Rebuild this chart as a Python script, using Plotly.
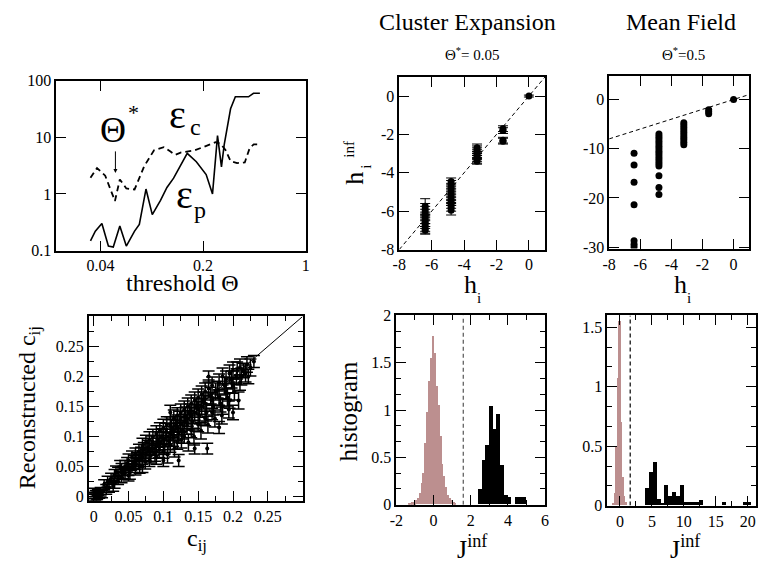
import plotly.graph_objects as go

W, H = 762, 567
FONT = "Liberation Serif"

# ---------------- Panel 1: errors vs threshold ----------------
theta_p = [0.0342, 0.0369, 0.0409, 0.0453, 0.0489, 0.0542, 0.060, 0.0683, 0.0736, 0.0817,
           0.0902, 0.1026, 0.1135, 0.126, 0.156, 0.180, 0.210, 0.232, 0.251, 0.267,
           0.279, 0.308, 0.332, 0.408, 0.441, 0.488]
eps_p = [0.148, 0.22, 0.30, 0.12, 0.115, 0.27, 0.12, 0.22, 0.29, 1.22,
         0.43, 0.77, 1.3, 1.9, 5.2, 3.7, 2.2, 1.0, 10.7, 3.0,
         7.5, 32, 52, 52, 60, 60]
theta_c = [0.0342, 0.0379, 0.0431, 0.0465, 0.0502, 0.0542, 0.060, 0.0683, 0.0795, 0.0927,
           0.108, 0.120, 0.129, 0.142, 0.175, 0.200, 0.244, 0.264, 0.285, 0.308,
           0.341, 0.385, 0.416, 0.443, 0.488]
eps_c = [1.93, 2.87, 2.1, 1.3, 0.75, 1.8, 1.25, 1.2, 3.1, 5.9,
         6.7, 5.6, 4.9, 5.4, 5.9, 6.7, 8.2, 7.7, 5.9, 3.8,
         3.5, 3.6, 6.5, 7.5, 7.5]

# ---------------- Panel 2: cluster expansion fields ----------------
ce_h = [-6.4, -6.4, -6.4, -6.4, -6.4, -6.4, -6.4, -6.4, -6.4, -6.4,
        -4.8, -4.8, -4.8, -4.8, -4.8, -4.8, -4.8, -4.8, -4.8, -4.8, -4.8,
        -3.2, -3.2, -3.2, -3.2, -3.2, -3.2, -3.2, -3.2,
        -1.6, -1.6, -1.6, -1.6,
        0.0]
ce_hinf = [-5.75, -5.9, -6.05, -6.2, -6.35, -6.5, -6.6, -6.75, -6.9, -7.0,
           -4.45, -4.6, -4.75, -4.9, -5.05, -5.2, -5.35, -5.5, -5.65, -5.8, -5.95,
           -2.7, -2.8, -2.9, -3.0, -3.1, -3.2, -3.3, -3.4,
           -1.7, -1.8, -2.3, -2.35,
           0.0]
ce_herr = [0.4, 0.3, 0.3, 0.3, 0.3, 0.3, 0.3, 0.3, 0.25, 0.2,
           0.18, 0.2, 0.2, 0.2, 0.2, 0.2, 0.2, 0.2, 0.2, 0.2, 0.25,
           0.2, 0.2, 0.2, 0.2, 0.2, 0.2, 0.2, 0.15,
           0.15, 0.15, 0.15, 0.15,
           0.05]

# ---------------- Panel 3: mean field fields ----------------
mf_h = [-6.4, -6.4, -6.4, -6.4, -6.4, -6.4, -6.4,
        -4.8, -4.8, -4.8, -4.8, -4.8, -4.8, -4.8, -4.8, -4.8, -4.8, -4.8, -4.8, -4.8, -4.8, -4.8, -4.8, -4.8,
        -3.2, -3.2, -3.2, -3.2, -3.2, -3.2, -3.2, -3.2, -3.2, -3.2,
        -1.6, -1.6, -1.6,
        0.0]
mf_hinf = [-10.9, -13.3, -16.8, -21.4, -28.7, -29.4, -30.0,
           -7.0, -7.5, -8.0, -8.5, -9.0, -9.5, -10.0, -10.5, -11.0, -11.5, -12.0, -12.5, -13.0, -13.5, -15.5, -17.9, -19.3,
           -4.7, -5.2, -5.7, -6.2, -6.7, -7.2, -7.7, -8.2, -8.7, -9.2,
           -2.1, -2.5, -2.9,
           0.0]

# ---------------- Panel 4: reconstructed correlations ----------------
c_data = [0.000, 0.002, 0.003, 0.005, 0.006, 0.008, 0.010, 0.001, 0.004, 0.012,
          0.015, 0.020, 0.022, 0.025, 0.030, 0.030, 0.035, 0.035, 0.040, 0.040,
          0.045, 0.045, 0.050, 0.050, 0.050, 0.055, 0.055, 0.060, 0.060, 0.060,
          0.065, 0.065, 0.070, 0.070, 0.070, 0.075, 0.075, 0.080, 0.080, 0.080,
          0.085, 0.085, 0.090, 0.090, 0.090, 0.095, 0.095, 0.100, 0.100, 0.100,
          0.100, 0.105, 0.105, 0.110, 0.110, 0.110, 0.110, 0.115, 0.115, 0.120,
          0.120, 0.120, 0.122, 0.125, 0.125, 0.130, 0.130, 0.130, 0.135, 0.135,
          0.140, 0.140, 0.140, 0.145, 0.145, 0.145, 0.150, 0.150, 0.150, 0.155,
          0.155, 0.160, 0.160, 0.160, 0.163, 0.165, 0.165, 0.170, 0.170, 0.170,
          0.175, 0.180, 0.180, 0.180, 0.185, 0.185, 0.190, 0.190, 0.195, 0.195,
          0.200, 0.200, 0.200, 0.205, 0.210, 0.210, 0.215, 0.220, 0.222, 0.230,
          0.018, 0.028, 0.032, 0.038, 0.042, 0.048, 0.052, 0.058, 0.062, 0.066,
          0.068, 0.072, 0.074, 0.078, 0.082, 0.084, 0.088, 0.092, 0.094, 0.098,
          0.102, 0.104, 0.106, 0.108, 0.112, 0.114, 0.116, 0.118, 0.122, 0.124,
          0.126, 0.128, 0.132, 0.134, 0.136, 0.138, 0.142, 0.144, 0.148, 0.152,
          0.154, 0.158, 0.162, 0.164, 0.168, 0.172, 0.174, 0.178, 0.182, 0.184,
          0.188, 0.192, 0.194, 0.198, 0.202, 0.206, 0.208, 0.212, 0.218, 0.225]
c_rec = [0.002, 0.000, 0.005, 0.001, 0.007, 0.003, 0.008, 0.009, -0.002, 0.004,
         0.020, 0.025, 0.015, 0.030, 0.022, 0.035, 0.040, 0.028, 0.045, 0.032,
         0.050, 0.038, 0.060, 0.045, 0.035, 0.065, 0.050, 0.070, 0.055, 0.045,
         0.075, 0.060, 0.085, 0.065, 0.050, 0.090, 0.070, 0.095, 0.075, 0.060,
         0.100, 0.080, 0.105, 0.085, 0.065, 0.110, 0.090, 0.115, 0.095, 0.075,
         0.060, 0.120, 0.100, 0.140, 0.120, 0.105, 0.085, 0.130, 0.110, 0.135,
         0.115, 0.090, 0.060, 0.140, 0.120, 0.145, 0.125, 0.100, 0.150, 0.130,
         0.155, 0.135, 0.110, 0.080, 0.160, 0.140, 0.165, 0.145, 0.120, 0.170,
         0.150, 0.175, 0.155, 0.130, 0.080, 0.200, 0.180, 0.185, 0.160, 0.140,
         0.175, 0.190, 0.115, 0.165, 0.200, 0.150, 0.195, 0.175, 0.205, 0.160,
         0.210, 0.185, 0.140, 0.200, 0.215, 0.190, 0.210, 0.220, 0.200, 0.225,
         0.012, 0.018, 0.042, 0.050, 0.040, 0.055, 0.040, 0.058, 0.062, 0.050,
         0.070, 0.078, 0.058, 0.082, 0.068, 0.088, 0.072, 0.095, 0.078, 0.100,
         0.085, 0.108, 0.070, 0.092, 0.115, 0.098, 0.080, 0.122, 0.105, 0.128,
         0.095, 0.110, 0.135, 0.118, 0.090, 0.140, 0.125, 0.100, 0.150, 0.135,
         0.110, 0.160, 0.140, 0.120, 0.168, 0.150, 0.130, 0.178, 0.155, 0.135,
         0.185, 0.165, 0.145, 0.195, 0.175, 0.210, 0.160, 0.200, 0.205, 0.215]
c_err = [0.005, 0.006, 0.005, 0.006, 0.005, 0.006, 0.007, 0.005, 0.006, 0.006,
         0.008, 0.009, 0.008, 0.009, 0.008, 0.010, 0.009, 0.008, 0.010, 0.009,
         0.010, 0.009, 0.011, 0.010, 0.009, 0.011, 0.010, 0.011, 0.010, 0.009,
         0.012, 0.010, 0.012, 0.011, 0.010, 0.012, 0.011, 0.013, 0.011, 0.010,
         0.012, 0.011, 0.013, 0.012, 0.011, 0.013, 0.012, 0.014, 0.012, 0.011,
         0.010, 0.013, 0.012, 0.012, 0.013, 0.012, 0.011, 0.014, 0.012, 0.013,
         0.012, 0.011, 0.010, 0.014, 0.013, 0.014, 0.012, 0.011, 0.014, 0.013,
         0.014, 0.013, 0.012, 0.009, 0.014, 0.013, 0.014, 0.013, 0.012, 0.014,
         0.013, 0.014, 0.013, 0.012, 0.009, 0.009, 0.014, 0.014, 0.013, 0.012,
         0.014, 0.014, 0.010, 0.013, 0.014, 0.013, 0.014, 0.013, 0.014, 0.013,
         0.014, 0.013, 0.012, 0.013, 0.014, 0.013, 0.012, 0.013, 0.012, 0.010,
         0.008, 0.009, 0.009, 0.010, 0.010, 0.010, 0.011, 0.011, 0.011, 0.011,
         0.012, 0.012, 0.012, 0.012, 0.012, 0.013, 0.013, 0.013, 0.013, 0.013,
         0.014, 0.014, 0.014, 0.014, 0.014, 0.014, 0.014, 0.014, 0.014, 0.014,
         0.014, 0.014, 0.014, 0.014, 0.014, 0.014, 0.014, 0.014, 0.014, 0.014,
         0.014, 0.014, 0.014, 0.014, 0.014, 0.014, 0.014, 0.014, 0.014, 0.014,
         0.014, 0.014, 0.014, 0.014, 0.014, 0.014, 0.014, 0.014, 0.014, 0.014]

# ---------------- Panel 5: cluster expansion coupling histogram ----------------
ce_pink_x = [-1.3, -1.2, -1.1, -1.0, -0.9, -0.8, -0.7, -0.6, -0.5, -0.4, -0.3, -0.2, -0.1,
             0.0, 0.1, 0.2, 0.3, 0.4, 0.5, 0.6, 0.7, 0.8, 0.9, 1.0, 1.1, 1.2]
ce_pink_y = [0.01, 0.01, 0.02, 0.02, 0.04, 0.06, 0.12, 0.22, 0.33, 0.65, 0.97, 1.30, 1.55,
             1.78, 1.60, 1.25, 1.05, 0.72, 0.42, 0.30, 0.18, 0.10, 0.06, 0.04, 0.02, 0.01]
ce_black_x = [2.5, 2.7, 2.9, 3.1, 3.3, 3.5, 3.7, 3.9, 4.1, 4.5, 4.7, 4.9]
ce_black_y = [0.16, 0.47, 0.63, 1.04, 0.79, 0.95, 0.41, 0.10, 0.08, 0.08, 0.08, 0.08]
ce_thr = 1.6

# ---------------- Panel 6: mean field coupling histogram ----------------
mf_pink_x = [-1.0, -0.75, -0.5, -0.25, 0.0, 0.25, 0.5, 0.75, 1.0]
mf_pink_y = [0.02, 0.10, 0.50, 1.07, 1.55, 0.70, 0.24, 0.08, 0.03]
mf_black_x = [4.3, 4.9, 5.5, 6.1, 6.7, 7.3, 7.9, 8.5, 9.1, 9.7, 10.3, 10.9, 11.5, 12.1, 12.7, 16.3, 19.6, 20.2]
mf_black_y = [0.14, 0.28, 0.36, 0.05, 0.02, 0.17, 0.08, 0.11, 0.08, 0.17, 0.03, 0.03, 0.03, 0.03, 0.04, 0.03, 0.03, 0.03]
mf_thr = 1.6

PINK = "#bc8f8f"

fig = go.Figure()

# panel 1
fig.add_trace(go.Scatter(x=theta_c, y=eps_c, mode="lines", line=dict(color="black", width=1.8, dash="6px,4px"),
                         xaxis="x", yaxis="y", showlegend=False))
fig.add_trace(go.Scatter(x=theta_p, y=eps_p, mode="lines", line=dict(color="black", width=1.6),
                         xaxis="x", yaxis="y", showlegend=False))

# panel 2
fig.add_trace(go.Scatter(x=[-8, 1], y=[-8, 1], mode="lines", line=dict(color="black", width=1, dash="4px,3px"),
                         xaxis="x2", yaxis="y2", showlegend=False))
fig.add_trace(go.Scatter(x=ce_h, y=ce_hinf, mode="markers", marker=dict(color="black", size=7),
                         error_y=dict(type="data", array=ce_herr, color="black", thickness=1, width=5),
                         xaxis="x2", yaxis="y2", showlegend=False))

# panel 3
fig.add_trace(go.Scatter(x=[-8, 1], y=[-8, 1], mode="lines", line=dict(color="black", width=1, dash="4px,3px"),
                         xaxis="x3", yaxis="y3", showlegend=False))
fig.add_trace(go.Scatter(x=mf_h, y=mf_hinf, mode="markers", marker=dict(color="black", size=7),
                         xaxis="x3", yaxis="y3", showlegend=False))

# panel 4
fig.add_trace(go.Scatter(x=[0, 0.3], y=[0, 0.3], mode="lines", line=dict(color="black", width=1),
                         xaxis="x4", yaxis="y4", showlegend=False))
fig.add_trace(go.Scatter(x=c_data, y=c_rec, mode="markers", marker=dict(color="black", size=4),
                         error_y=dict(type="data", array=c_err, color="black", thickness=1.5, width=6),
                         xaxis="x4", yaxis="y4", showlegend=False))

# panel 5
fig.add_trace(go.Bar(x=ce_pink_x, y=ce_pink_y, width=0.1, marker=dict(color=PINK, line=dict(width=0)),
                     xaxis="x5", yaxis="y5", showlegend=False))
fig.add_trace(go.Bar(x=ce_black_x, y=ce_black_y, width=0.2, marker=dict(color="black", line=dict(width=0)),
                     xaxis="x5", yaxis="y5", showlegend=False))
fig.add_trace(go.Scatter(x=[ce_thr, ce_thr], y=[0, 2], mode="lines", line=dict(color="#555555", width=1.2, dash="4px,3px"),
                         xaxis="x5", yaxis="y5", showlegend=False))

# panel 6
fig.add_trace(go.Bar(x=mf_pink_x, y=mf_pink_y, width=0.25, marker=dict(color=PINK, line=dict(width=0)),
                     xaxis="x6", yaxis="y6", showlegend=False))
fig.add_trace(go.Bar(x=mf_black_x, y=mf_black_y, width=0.6, marker=dict(color="black", line=dict(width=0)),
                     xaxis="x6", yaxis="y6", showlegend=False))
fig.add_trace(go.Scatter(x=[mf_thr, mf_thr], y=[0, 1.6], mode="lines", line=dict(color="black", width=1.2, dash="4px,3px"),
                         xaxis="x6", yaxis="y6", showlegend=False))


def dom_x(a, b):
    return [a / W, b / W]


def dom_y(top, bottom):
    return [1 - bottom / H, 1 - top / H]


def axis(domain, anchor, rng, tickvals, ticktext, typ="linear", minor_dtick=None):
    d = dict(domain=domain, anchor=anchor, range=rng, type=typ,
             showline=True, linecolor="black", linewidth=1.5, mirror="ticks",
             ticks="inside", ticklen=10, tickwidth=1, tickcolor="black",
             showgrid=False, zeroline=False, tickvals=tickvals, ticktext=ticktext,
             tickfont=dict(family=FONT, size=16, color="black"))
    if minor_dtick is not None:
        d["minor"] = dict(dtick=minor_dtick, tick0=0, ticks="inside", ticklen=5, tickwidth=1,
                          tickcolor="black", showgrid=False)
    return d


layout = dict(
    width=W, height=H, margin=dict(l=0, r=0, t=0, b=0), autosize=False,
    paper_bgcolor="white", plot_bgcolor="white", barmode="overlay", bargap=0,
    font=dict(family=FONT, color="black"),
    xaxis=axis(dom_x(50, 303), "y", [-1.699, 0], [0.04, 0.2, 1], ["0.04", "0.2", "1"], typ="log"),
    yaxis=axis(dom_y(75, 250), "x", [-1, 2], [0.1, 1, 10, 100], ["0.1", "1", "10", "100"], typ="log"),
    xaxis2=axis(dom_x(398, 546), "y2", [-8, 1], [-8, -6, -4, -2, 0], ["-8", "-6", "-4", "-2", "0"]),
    yaxis2=axis(dom_y(71, 249), "x2", [-8, 1], [-8, -6, -4, -2, 0], ["-8", "-6", "-4", "-2", "0"]),
    xaxis3=axis(dom_x(611, 753), "y3", [-8, 1], [-8, -6, -4, -2, 0], ["-8", "-6", "-4", "-2", "0"]),
    yaxis3=axis(dom_y(70, 248), "x3", [-30.3, 4.8], [-30, -20, -10, 0], ["-30", "-20", "-10", "0"]),
    xaxis4=axis(dom_x(83, 300), "y4", [-0.007, 0.3], [0, 0.05, 0.1, 0.15, 0.2, 0.25],
                ["0", "0.05", "0.1", "0.15", "0.2", "0.25"], minor_dtick=0.025),
    yaxis4=axis(dom_y(318, 508), "x4", [-0.007, 0.3], [0, 0.05, 0.1, 0.15, 0.2, 0.25],
                ["0", "0.05", "0.1", "0.15", "0.2", "0.25"], minor_dtick=0.025),
    xaxis5=axis(dom_x(395, 546), "y5", [-2, 6], [-2, 0, 2, 4, 6], ["-2", "0", "2", "4", "6"], minor_dtick=1),
    yaxis5=axis(dom_y(317, 512), "x5", [0, 2], [0, 0.5, 1, 1.5, 2], ["0", "0.5", "1", "1.5", "2"],
                minor_dtick=0.5 / 3),
    xaxis6=axis(dom_x(609, 760), "y6", [-2, 21.3], [0, 5, 10, 15, 20], ["0", "5", "10", "15", "20"], minor_dtick=2.5),
    yaxis6=axis(dom_y(317, 513), "x6", [0, 1.6], [0, 0.5, 1, 1.5], ["0", "0.5", "1", "1.5"], minor_dtick=0.5 / 3),
)
fig.update_layout(**layout)

anns = []


def A(text, px, py, size, angle=0, xanchor="center", yanchor="middle"):
    anns.append(dict(text=text, x=px / W, y=1 - py / H, xref="paper", yref="paper",
                     showarrow=False, textangle=angle, xanchor=xanchor, yanchor=yanchor,
                     font=dict(family=FONT, size=size, color="black")))


# panel 1 labels
A("threshold Θ", 178, 283, 24)
A("Θ", 108, 126, 36)
A("*", 128, 108, 22)
A("ε", 173, 110, 40)
A("c", 191, 123, 24)
A("ε", 180, 192, 40)
A("p", 196, 208, 24)
anns.append(dict(x=110 / W, y=1 - 170 / H, xref="paper", yref="paper", ax=0, ay=-23,
                 showarrow=True, arrowhead=2, arrowsize=0.8, arrowwidth=1, arrowcolor="black", text=""))

# titles
A("Cluster Expansion", 467, 14, 24)
A("Θ<sup>*</sup>= 0.05", 472, 47, 15)
A("Mean Field", 684, 14, 24)
A("Θ<sup>*</sup>=0.5", 686, 47, 15)

# panel 2/3 axis labels
A("h", 353, 175, 26, angle=-90)
A("i", 364, 164, 15, angle=-90)
A("inf", 347, 145, 15, angle=-90)
A("h", 470, 285, 26)
A("i", 479, 299, 15)
A("h", 683, 285, 26)
A("i", 692, 299, 15)

# panel 4 labels
A("Reconstructed c<sub>ij</sub>", 22, 412, 24, angle=-90)
A("c<sub>ij</sub>", 193, 548, 24)

# panel 5/6 labels
A("histogram", 347, 415, 25, angle=-90)
A("J<sup>inf</sup>", 472, 556, 26)
A("J<sup>inf</sup>", 688, 556, 26)

fig.update_layout(annotations=anns)

fig.write_html("out.html", config={"displayModeBar": False},
               post_script="document.body.style.margin='0';document.body.style.padding='0';")
